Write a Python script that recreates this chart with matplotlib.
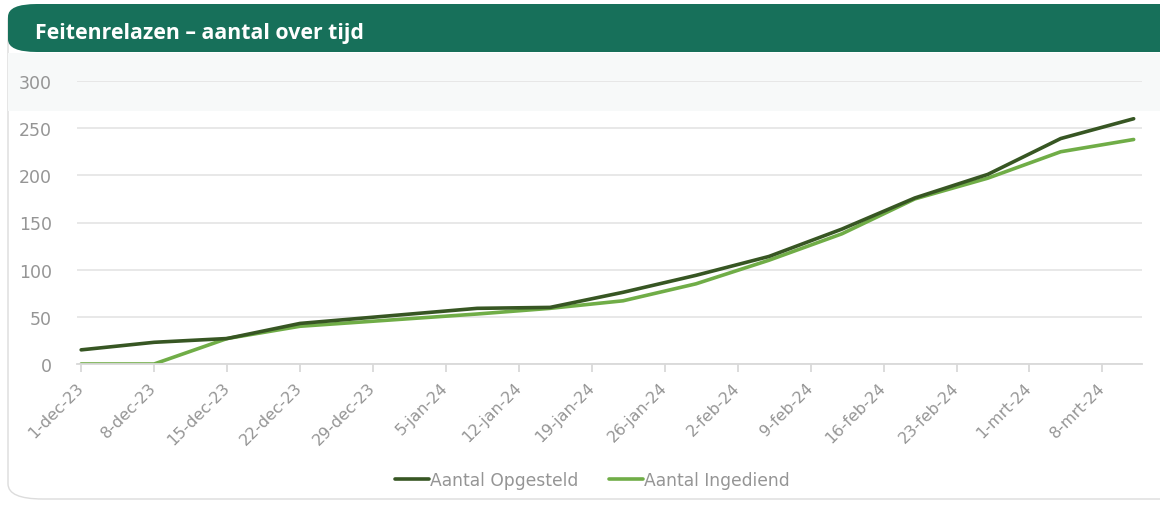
import numpy as np
import pandas as pd
import matplotlib
matplotlib.use("Agg")
import matplotlib.pyplot as plt
import matplotlib.dates as mdates
from matplotlib.patches import FancyBboxPatch, Rectangle

plt.rcParams["font.family"] = ["DejaVu Sans"]

# data
dates = pd.to_datetime([
    "2023-12-01", "2023-12-08", "2023-12-15", "2023-12-22",
    "2024-01-08", "2024-01-15", "2024-01-22", "2024-01-29",
    "2024-02-05", "2024-02-12", "2024-02-19", "2024-02-26",
    "2024-03-04", "2024-03-11",
])
opgesteld = [15, 23, 27, 43, 59, 60, 76, 94, 114, 143, 176, 201, 239, 260]
ingediend = [0, 0, 27, 40, 53, 59, 67, 85, 110, 138, 175, 197, 225, 238]

tick_dates = pd.date_range("2023-12-01", "2024-03-08", freq="7D")
tick_labels = ["1-dec-23", "8-dec-23", "15-dec-23", "22-dec-23", "29-dec-23",
               "5-jan-24", "12-jan-24", "19-jan-24", "26-jan-24", "2-feb-24",
               "9-feb-24", "16-feb-24", "23-feb-24", "1-mrt-24", "8-mrt-24"]

title = "Feitenrelazen – aantal over tijd"
dark = "#375623"
light = "#70ad47"
grey_txt = "#959595"

fig = plt.figure(figsize=(11.6, 5.06), dpi=100)
fig.patch.set_facecolor("white")

# card background, header band and light strip
W, H = 1160, 506
card = FancyBboxPatch((8 / W, 6 / H), 1.2, 1 - 12 / H,
                      boxstyle="round,pad=0,rounding_size=0.03",
                      transform=fig.transFigure, facecolor="white",
                      edgecolor="#dcdcdc", linewidth=1.0, zorder=0)
fig.patches.append(card)
strip = Rectangle((8 / W, 1 - 112 / H), 1.0, 58 / H, transform=fig.transFigure,
                  facecolor="#f7f9f9", edgecolor="none", zorder=0.5)
fig.patches.append(strip)
header = FancyBboxPatch((8 / W, 1 - 53 / H), 1.2, 48 / H,
                        boxstyle="round,pad=0,rounding_size=0.025",
                        transform=fig.transFigure, facecolor="#17705a",
                        edgecolor="none", zorder=1)
fig.patches.append(header)
fig.text(35 / W, 1 - 34 / H, title, color="white", fontsize=15.3,
         fontweight="bold", family="Open Sans", va="center", ha="left")

ax = fig.add_axes([77 / W, 1 - 365 / H, (1142 - 77) / W, (365 - 82) / H])
ax.set_zorder(3)
ax.set_facecolor("none")

ax.plot(dates, opgesteld, color=dark, linewidth=2.6, label="Aantal Opgesteld",
        solid_capstyle="round", solid_joinstyle="round", zorder=3)
ax.plot(dates, ingediend, color=light, linewidth=2.6, label="Aantal Ingediend",
        solid_capstyle="round", solid_joinstyle="round", zorder=2)

ax.set_ylim(0, 300)
ax.set_yticks(np.arange(0, 301, 50))
ax.set_xlim(mdates.date2num(pd.Timestamp("2023-12-01")) - 0.4,
            mdates.date2num(pd.Timestamp("2024-03-11")) + 0.8)
ax.set_xticks(mdates.date2num(tick_dates))
ax.set_xticklabels(tick_labels, rotation=45, ha="right", va="center",
                   rotation_mode="anchor")

ax.grid(axis="y", color="#e6e6e6", linewidth=1.3)
ax.set_axisbelow(True)
for s in ["top", "right", "left"]:
    ax.spines[s].set_visible(False)
ax.spines["bottom"].set_color("#d9d9d9")
ax.spines["bottom"].set_linewidth(1.3)
ax.tick_params(axis="y", length=0, pad=18, labelsize=12.5, labelcolor=grey_txt)
ax.tick_params(axis="x", length=6, width=1.3, color="#d9d9d9", pad=9,
               labelsize=11.5, labelcolor=grey_txt)

leg = fig.legend(loc="center", bbox_to_anchor=(592 / W, 1 - 481 / H), ncol=2,
                 frameon=False, fontsize=12.3, handlelength=2.0,
                 handletextpad=0.05, columnspacing=1.8)
leg.set_zorder(4)
for t in leg.get_texts():
    t.set_color(grey_txt)

fig.savefig("out.png", dpi=100, facecolor="white")
